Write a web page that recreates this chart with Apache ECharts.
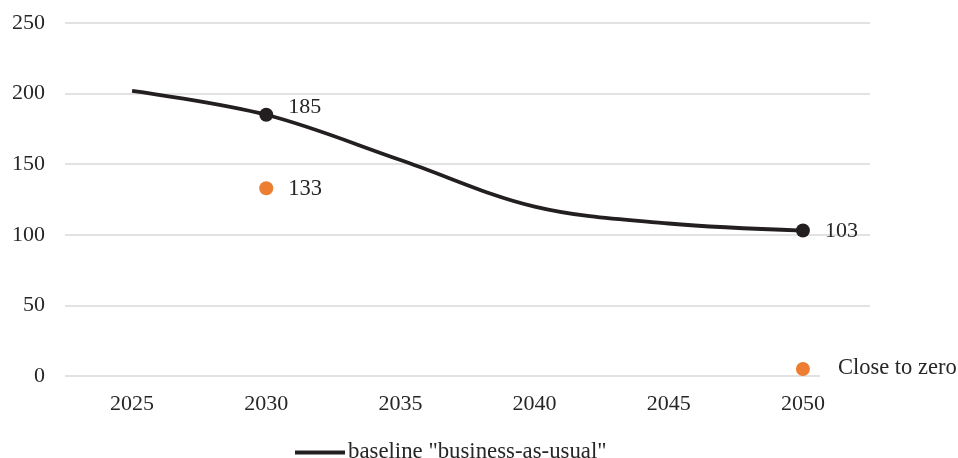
<!DOCTYPE html>
<html>
<head>
<meta charset="utf-8">
<script src="https://cdn.jsdelivr.net/npm/echarts@6/dist/echarts.min.js"></script>
<style>
  html, body { margin: 0; padding: 0; background: #fff; }
  #chart { width: 958px; height: 458px; }
</style>
</head>
<body>
<div id="chart"></div>
<script>
// Years on the horizontal axis
const years = ['2025', '2030', '2035', '2040', '2045', '2050'];
// Baseline "business-as-usual" trajectory
const baselineValues = [202, 185, 153, 120, 108, 103];
// Years on the baseline that carry a marker and value label
const baselineMarked = ['2030', '2050'];
// Target points (orange), null where there is no target
const targetValues = [null, 133, null, null, null, 5];
const targetLabels = [null, '133', null, null, null, 'Close to zero'];
// Value axis ticks
const yTicks = [0, 50, 100, 150, 200, 250];

const FONT = "'Liberation Serif', 'Times New Roman', serif";
const TEXT = '#262626';

const baselineData = baselineValues.map((v, i) => {
  if (baselineMarked.indexOf(years[i]) < 0) return v;
  return {
    value: v,
    symbol: 'circle',
    symbolSize: 14,
    label: {
      show: true,
      position: 'right',
      distance: 15,
      offset: years[i] === '2030' ? [0, -8] : [0, 1]
    }
  };
});

const targetData = targetValues.map((v, i) => {
  if (v === null) return null;
  const isZero = targetLabels[i] === 'Close to zero';
  return {
    value: v,
    label: {
      show: true,
      position: 'right',
      formatter: targetLabels[i],
      distance: isZero ? 10 : 15,
      offset: isZero ? [0, -1] : [0, 1],
      backgroundColor: isZero ? '#fff' : 'transparent',
      padding: isZero ? [3, 2, 3, 18] : 0
    }
  };
});

const chart = echarts.init(document.getElementById('chart'), null, { renderer: 'canvas' });
chart.setOption({
  animation: false,
  backgroundColor: '#fff',
  textStyle: { fontFamily: FONT },
  grid: { left: 65, right: 88, top: 23, bottom: 82, containLabel: false },
  legend: {
    data: ['baseline "business-as-usual"'],
    left: 295,
    top: 441,
    padding: 0,
    icon: 'rect',
    itemWidth: 50,
    itemHeight: 4,
    textStyle: { fontFamily: FONT, fontSize: 22.8, color: TEXT, padding: [0, 0, 0, -2] }
  },
  xAxis: {
    type: 'category',
    data: years,
    boundaryGap: true,
    axisLine: { show: false },
    axisTick: { show: false },
    axisLabel: { fontFamily: FONT, fontSize: 22, color: TEXT, margin: 17 }
  },
  yAxis: {
    type: 'value',
    min: yTicks[0],
    max: yTicks[yTicks.length - 1],
    interval: yTicks[1] - yTicks[0],
    axisLine: { show: false },
    axisTick: { show: false },
    axisLabel: { fontFamily: FONT, fontSize: 22, color: TEXT, margin: 20 },
    splitLine: { lineStyle: { color: '#d9d9d9', width: 1.5 } }
  },
  series: [
    {
      name: 'baseline "business-as-usual"',
      type: 'line',
      data: baselineData,
      smooth: 0.35,
      showSymbol: true,
      symbol: 'none',
      color: '#231f20',
      lineStyle: { color: '#231f20', width: 3.8 },
      itemStyle: { color: '#231f20' },
      label: { fontFamily: FONT, fontSize: 22, color: TEXT },
      z: 3
    },
    {
      name: 'target',
      type: 'scatter',
      data: targetData,
      symbol: 'circle',
      symbolSize: 14,
      itemStyle: { color: '#ed7d31', opacity: 1 },
      label: { fontFamily: FONT, fontSize: 22.5, color: TEXT },
      z: 4
    }
  ]
});
</script>
</body>
</html>
